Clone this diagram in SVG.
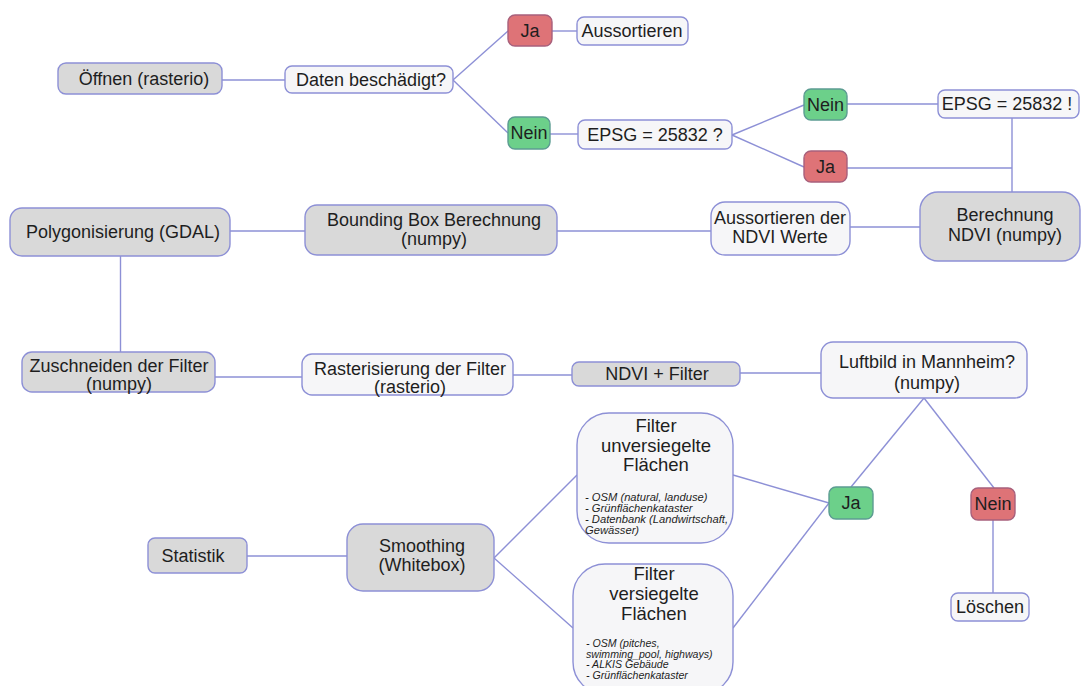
<svg xmlns="http://www.w3.org/2000/svg" width="1081" height="686" viewBox="0 0 1081 686">
<style>
.g{fill:#d9d9d9;stroke:#8d90d6;stroke-width:1.4}
.w{fill:#f6f6f8;stroke:#8d90d6;stroke-width:1.4}
.r{fill:#de7377;stroke:#a8607c;stroke-width:1.4}
.gr{fill:#6cd08a;stroke:#5c9c92;stroke-width:1.4}
text{font-family:"Liberation Sans",Arial,sans-serif;fill:#1e1e1e}
.t{font-size:18px;text-anchor:middle}
.h{font-size:18.5px;text-anchor:middle}
.b{font-size:11.2px;font-style:italic}
.b2{font-size:10.6px;font-style:italic}
#connectors line{stroke:#8d90d6;stroke-width:1.4;fill:none}
</style>
<rect width="1081" height="686" fill="#ffffff"/>
<g id="connectors">
<line x1="222" y1="80" x2="285" y2="80"/>
<line x1="453" y1="80" x2="508" y2="31"/>
<line x1="453" y1="80" x2="508" y2="133"/>
<line x1="552" y1="31" x2="577" y2="31"/>
<line x1="550" y1="134" x2="578" y2="134"/>
<line x1="732" y1="135" x2="804" y2="105"/>
<line x1="732" y1="135" x2="804" y2="167"/>
<line x1="847" y1="104" x2="938" y2="104"/>
<line x1="847" y1="168" x2="1012" y2="168"/>
<line x1="1012" y1="118" x2="1012" y2="192"/>
<line x1="920" y1="227" x2="850" y2="227"/>
<line x1="711" y1="231" x2="557" y2="231"/>
<line x1="305" y1="231" x2="230" y2="231"/>
<line x1="120.5" y1="256" x2="120.5" y2="352"/>
<line x1="215" y1="377" x2="302" y2="377"/>
<line x1="513" y1="375" x2="572" y2="375"/>
<line x1="740" y1="373" x2="821" y2="373"/>
<line x1="924" y1="398" x2="851" y2="487"/>
<line x1="924" y1="398" x2="994" y2="488"/>
<line x1="993" y1="520" x2="993" y2="593"/>
<line x1="829" y1="503" x2="733" y2="475"/>
<line x1="829" y1="503" x2="733" y2="628"/>
<line x1="577" y1="475" x2="494" y2="558"/>
<line x1="573" y1="628" x2="494" y2="558"/>
<line x1="347" y1="556" x2="247" y2="556"/>
</g>
<g id="oeffnen"><rect class="g" x="58" y="63" width="164" height="31" rx="8"/><text class="t" x="144" y="85">Öffnen (rasterio)</text></g>
<g id="daten"><rect class="w" x="285" y="66" width="168" height="27" rx="7"/><text class="t" x="371" y="86">Daten beschädigt?</text></g>
<g id="ja1"><rect class="r" x="508" y="15" width="44" height="31" rx="7"/><text class="t" x="530" y="37">Ja</text></g>
<g id="aussortieren"><rect class="w" x="577" y="17" width="111" height="28" rx="7"/><text class="t" x="632" y="37">Aussortieren</text></g>
<g id="nein1"><rect class="gr" x="508" y="117" width="42" height="32" rx="7"/><text class="t" x="529" y="139">Nein</text></g>
<g id="epsg-q"><rect class="w" x="578" y="120" width="154" height="29" rx="7"/><text class="t" x="655" y="141">EPSG = 25832 ?</text></g>
<g id="nein2"><rect class="gr" x="804" y="89" width="43" height="31" rx="7"/><text class="t" x="825.5" y="111">Nein</text></g>
<g id="ja2"><rect class="r" x="804" y="151" width="43" height="31" rx="7"/><text class="t" x="825.5" y="173">Ja</text></g>
<g id="epsg-set"><rect class="w" x="938" y="90" width="141" height="28" rx="7"/><text class="t" x="1007" y="110">EPSG = 25832 !</text></g>
<g id="berechnung"><rect class="g" x="920" y="192" width="160" height="69" rx="18"/><text class="t" x="1005" y="221">Berechnung</text><text class="t" x="1005" y="241">NDVI (numpy)</text></g>
<g id="aussortieren-ndvi"><rect class="w" x="711" y="202" width="139" height="53" rx="14"/><text class="t" x="780" y="224">Aussortieren der</text><text class="t" x="780" y="243">NDVI Werte</text></g>
<g id="bbox"><rect class="g" x="305" y="205" width="252" height="50" rx="12"/><text class="t" x="434" y="226">Bounding Box Berechnung</text><text class="t" x="434" y="245">(numpy)</text></g>
<g id="polygon"><rect class="g" x="10" y="208" width="220" height="48" rx="12"/><text class="t" x="123" y="238">Polygonisierung (GDAL)</text></g>
<g id="zuschneiden"><rect class="g" x="22" y="352" width="193" height="40" rx="10"/><text class="t" x="119" y="372">Zuschneiden der Filter</text><text class="t" x="119" y="390">(numpy)</text></g>
<g id="rasterisierung"><rect class="w" x="302" y="354" width="211" height="41" rx="10"/><text class="t" x="410" y="375">Rasterisierung der Filter</text><text class="t" x="410" y="393">(rasterio)</text></g>
<g id="ndvi-filter"><rect class="g" x="572" y="362" width="168" height="24" rx="7"/><text class="t" x="657" y="380">NDVI + Filter</text></g>
<g id="luftbild"><rect class="w" x="821" y="342" width="206" height="56" rx="12"/><text class="t" x="927" y="368">Luftbild in Mannheim?</text><text class="t" x="927" y="389">(numpy)</text></g>
<g id="ja3"><rect class="gr" x="829" y="487" width="44" height="32" rx="7"/><text class="t" x="851" y="509">Ja</text></g>
<g id="nein3"><rect class="r" x="971" y="488" width="44" height="32" rx="7"/><text class="t" x="993" y="510">Nein</text></g>
<g id="loeschen"><rect class="w" x="951" y="593" width="78" height="28" rx="7"/><text class="t" x="990" y="613">Löschen</text></g>
<g id="filter-unversiegelt"><rect class="w" x="577" y="413" width="156" height="130" rx="32"/>
<text class="h" x="656" y="432">Filter</text><text class="h" x="656" y="452">unversiegelte</text><text class="h" x="656" y="471">Flächen</text>
<text class="b" x="585" y="501">- OSM (natural, landuse)</text><text class="b" x="585" y="512">- Grünflächenkataster</text><text class="b" x="585" y="523">- Datenbank (Landwirtschaft,</text><text class="b" x="585" y="534">Gewässer)</text></g>
<g id="filter-versiegelt"><rect class="w" x="573" y="564" width="160" height="130" rx="32"/>
<text class="h" x="654" y="580">Filter</text><text class="h" x="654" y="600">versiegelte</text><text class="h" x="654" y="620">Flächen</text>
<text class="b2" x="586" y="647">- OSM (pitches,</text><text class="b2" x="586" y="657.5">swimming_pool, highways)</text><text class="b2" x="586" y="668">- ALKIS Gebäude</text><text class="b2" x="586" y="678.5">- Grünflächenkataster</text></g>
<g id="smoothing"><rect class="g" x="347" y="524" width="147" height="67" rx="16"/><text class="t" x="422" y="552">Smoothing</text><text class="t" x="422" y="571">(Whitebox)</text></g>
<g id="statistik"><rect class="g" x="148" y="538" width="99" height="35" rx="7"/><text class="t" x="193" y="562">Statistik</text></g>
</svg>
